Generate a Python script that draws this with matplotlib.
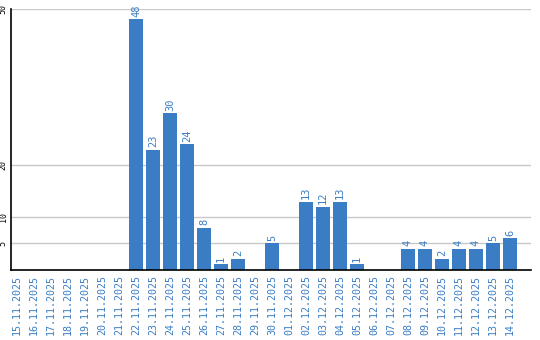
import matplotlib
matplotlib.use("Agg")
import matplotlib.pyplot as plt

dates = ["15.11.2025", "16.11.2025", "17.11.2025", "18.11.2025", "19.11.2025",
         "20.11.2025", "21.11.2025", "22.11.2025", "23.11.2025", "24.11.2025",
         "25.11.2025", "26.11.2025", "27.11.2025", "28.11.2025", "29.11.2025",
         "30.11.2025", "01.12.2025", "02.12.2025", "03.12.2025", "04.12.2025",
         "05.12.2025", "06.12.2025", "07.12.2025", "08.12.2025", "09.12.2025",
         "10.12.2025", "11.12.2025", "12.12.2025", "13.12.2025", "14.12.2025"]
values = [0, 0, 0, 0, 0, 0, 0, 48, 23, 30, 24, 8, 1, 2, 0, 5, 0, 13, 12, 13,
          1, 0, 0, 4, 4, 2, 4, 4, 5, 6]
yticks = [5, 10, 20, 50]

plt.rcParams['font.family'] = ['DejaVu Sans Mono']
blue = "#3b7dc4"
W, H = 540, 340
fig = plt.figure(figsize=(W / 100, H / 100), dpi=100)
left, right, top, bottom = 10.5, 531, 9, 269.5
ax = fig.add_axes([left / W, 1 - bottom / H, (right - left) / W, (bottom - top) / H])

x = list(range(len(dates)))
bars = ax.bar(x, values, width=0.8, color=blue, zorder=3)
for xi, v in zip(x, values):
    if v > 0:
        ax.text(xi, v + 0.5, str(v), rotation=90, ha="center", va="bottom",
                color=blue, fontsize=7.5, zorder=4)

ax.set_xlim(-0.38, 30.24)
ax.set_ylim(0, 50)
ax.set_yticks(yticks)
ax.set_yticklabels([str(t) for t in yticks], rotation=90, va="center",
                   fontsize=6, color="black")
ax.set_xticks(x)
ax.set_xticklabels(dates, rotation=90, fontsize=7.2, color=blue)
ax.tick_params(axis="both", length=0, pad=4)
ax.tick_params(axis="y", pad=2)
ax.grid(axis="y", color="#c8c8c8", linewidth=1, zorder=0)
for s in ["top", "right"]:
    ax.spines[s].set_visible(False)
ax.spines["left"].set_color("black")
ax.spines["bottom"].set_color("black")
ax.spines["left"].set_linewidth(1.2)
ax.spines["bottom"].set_linewidth(1.2)
ax.spines["bottom"].set_zorder(5)

fig.savefig("out.png", dpi=100)
